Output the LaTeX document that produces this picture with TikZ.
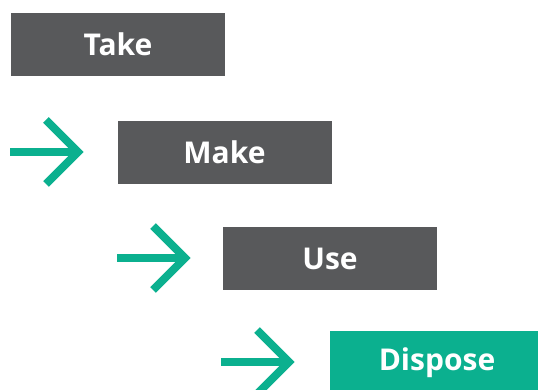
\documentclass[tikz,border=0pt]{standalone}
\usepackage{fontspec}
\setmainfont{Open Sans}
\definecolor{boxgrey}{HTML}{58595B}
\definecolor{teal}{HTML}{0BB08F}
\begin{document}
\begin{tikzpicture}[x=1pt,y=-1pt,
  stepbox/.style={fill=boxgrey,minimum width=214pt,minimum height=63pt,inner sep=0pt,
    text=white,font=\fontsize{30}{30}\selectfont\bfseries},
  arrowline/.style={draw=teal,line width=8pt,line join=miter}]
\useasboundingbox (0,0) rectangle (538,390);
\node[stepbox] (take) at (118,44.5) {Take};
\node[stepbox] (make) at (224.5,152.5) {Make};
\node[stepbox] (use) at (330,258.5) {Use};
\node[stepbox,fill=teal] (dispose) at (437,362.5) {Dispose};
% arrows
\foreach \i/\dx/\dy in {1/0/0,2/107/106,3/211/210}{
  \coordinate (s\i) at (10+\dx,152+\dy);
  \coordinate (e\i) at (76+\dx,152+\dy);
  \coordinate (t\i) at (78+\dx,152+\dy);
  \coordinate (a\i) at (46+\dx,120+\dy);
  \coordinate (b\i) at (46+\dx,184+\dy);
  \draw[arrowline] (s\i) -- (e\i);
  \draw[arrowline] (a\i) -- (t\i) -- (b\i);
}
\end{tikzpicture}
\end{document}
